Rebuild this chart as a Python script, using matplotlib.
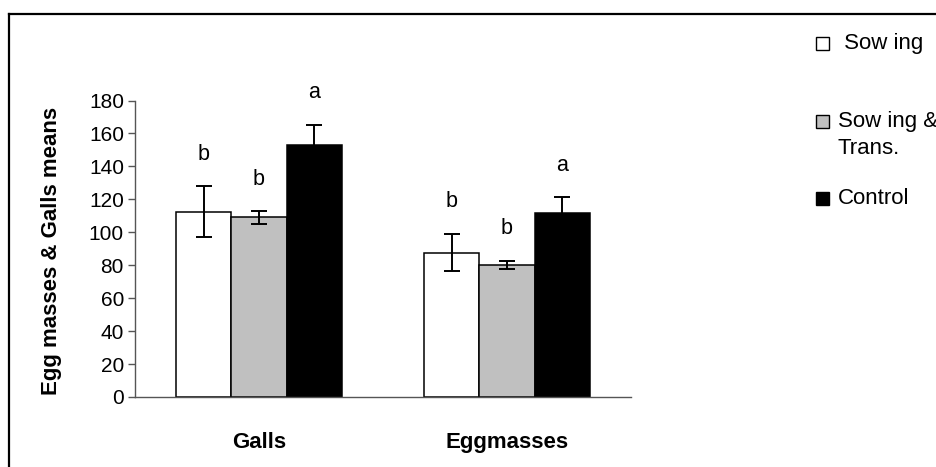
import matplotlib
matplotlib.use("Agg")
import matplotlib.pyplot as plt
import numpy as np
from matplotlib.patches import Rectangle
from matplotlib.lines import Line2D

plt.rcParams["font.family"] = ["Liberation Sans", "DejaVu Sans"]

# data
categories = ["Galls", "Eggmasses"]
treatments = [" Sow ing", "Sow ing &\nTrans.", "Control"]
means = {
    " Sow ing": [112.6, 87.7],
    "Sow ing &\nTrans.": [109.0, 80.1],
    "Control": [152.9, 112.0],
}
errors = {
    " Sow ing": [15.5, 11.4],
    "Sow ing &\nTrans.": [3.7, 2.5],
    "Control": [12.3, 9.3],
}
letters = {
    " Sow ing": ["b", "b"],
    "Sow ing &\nTrans.": ["b", "b"],
    "Control": ["a", "a"],
}
fills = ["white", "#c0c0c0", "black"]
y_ticks = [0, 20, 40, 60, 80, 100, 120, 140, 160, 180]

W, H = 936, 467
fig = plt.figure(figsize=(W / 100, H / 100), dpi=100)
ax = fig.add_axes([135 / W, 1 - 397 / H, 496 / W, 296.5 / H])

x = np.arange(len(categories))
bar_w = 0.222
for i, name in enumerate(treatments):
    pos = x + (i - 1) * bar_w
    ax.bar(pos, means[name], width=bar_w, color=fills[i], edgecolor="black",
           linewidth=1.1, zorder=2)
    ax.errorbar(pos, means[name], yerr=errors[name], fmt="none", ecolor="black",
                elinewidth=1.4, capsize=6, capthick=1.4, zorder=3)
    # significance letters sit above each error bar
    for p, m, e, lab in zip(pos, means[name], errors[name], letters[name]):
        ax.annotate(lab, (p, m + e), xytext=(0, 23), textcoords="offset points",
                    ha="center", va="center", fontsize=15.5,
                    annotation_clip=False)

ax.set_xlim(-0.5, 1.5)
ax.set_ylim(0, 180)
ax.set_yticks(y_ticks)
ax.tick_params(axis="y", direction="out", length=5, width=1, color="#555555",
               labelsize=15, pad=3)
ax.set_xticks([])
for side in ["top", "right"]:
    ax.spines[side].set_visible(False)
for side in ["left", "bottom"]:
    ax.spines[side].set_color("#555555")
    ax.spines[side].set_linewidth(1)

# category labels below the axis
for xi, cat in zip(x, categories):
    ax.annotate(cat, (xi, 0), xytext=(0, -33), textcoords="offset points",
                ha="center", va="center", fontsize=16, fontweight="bold",
                annotation_clip=False)

fig.text(52 / W, 1 - 251 / H, "Egg masses & Galls means", rotation=90,
         ha="center", va="center", fontsize=16, fontweight="bold")

# legend drawn by hand
legend_y = [43, 121, 198]
for name, fc, yc in zip(treatments, fills, legend_y):
    fig.add_artist(Rectangle((816 / W, 1 - (yc + 6.5) / H), 13 / W, 13 / H,
                             transform=fig.transFigure, facecolor=fc,
                             edgecolor="black", linewidth=1))
    fig.text(838 / W, 1 - (yc - 10) / H, name, ha="left", va="top",
             fontsize=16, linespacing=1.4)

# frame lines (top and left)
fig.add_artist(Line2D([8.5 / W, 1], [1 - 14 / H, 1 - 14 / H],
                      transform=fig.transFigure, color="black", linewidth=1.6))
fig.add_artist(Line2D([9 / W, 9 / W], [0, 1 - 14 / H],
                      transform=fig.transFigure, color="black", linewidth=1.6))

fig.savefig("out.png", dpi=100)
